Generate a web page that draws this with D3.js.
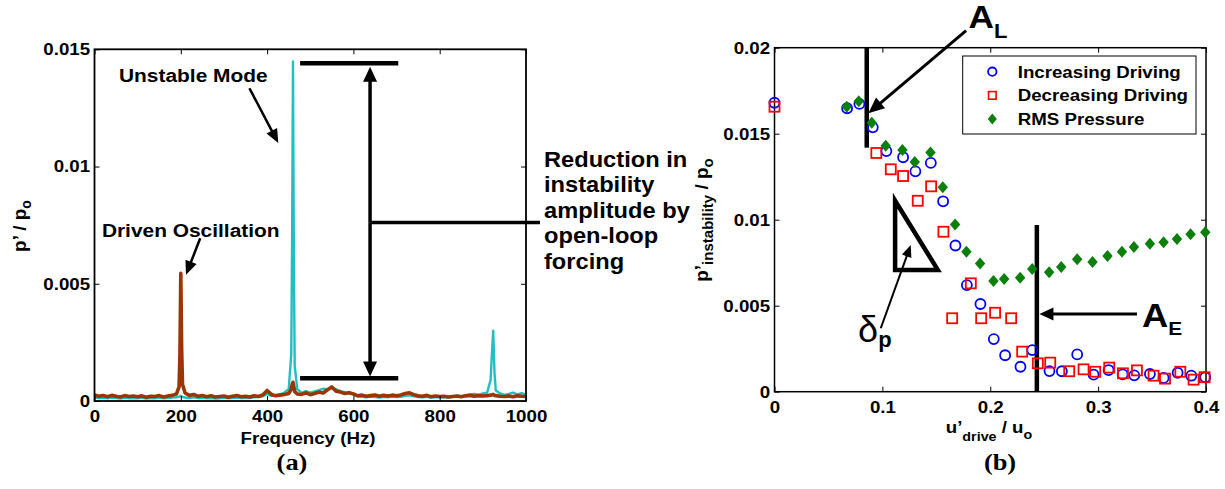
<!DOCTYPE html>
<html>
<head>
<meta charset="utf-8">
<script src="https://cdn.jsdelivr.net/npm/d3@7"></script>
<style>
  body { margin: 0; background: #fff; }
  svg text { font-family: "Liberation Sans", Arial, sans-serif; font-weight: bold; fill: #000; }
</style>
</head>
<body>
<svg id="chart" width="1225" height="489"></svg>
<script>
// ---- panel (a): pressure spectra, amplitudes in units of 1e-4 ----
var freqHz = [
  0, 10, 20, 30, 40, 50, 60, 70, 80, 90,
  100, 110, 120, 130, 140, 150, 160, 170, 180, 190,
  196, 198, 200, 202, 204,
  210, 220, 230, 240, 250, 260, 270, 280, 290, 300,
  310, 320, 330, 340, 350, 360, 370, 380, 390, 400,
  410, 420, 430, 440, 450,
  456, 458, 460, 462, 464,
  470, 480, 490, 500, 510, 520, 530, 540, 550, 560,
  570, 580, 590, 600, 610, 620, 630, 640, 650, 660,
  670, 680, 690, 700, 710, 720, 730, 740, 750, 760,
  770, 780, 790, 800, 810, 820, 830, 840, 850, 860,
  870, 880, 890, 900, 910,
  918, 921, 924, 927, 930,
  940, 950, 960, 970, 980, 990, 1000
];
// with open-loop forcing at 200 Hz (brown)
var forcedAmp = [
  2.6, 2.0, 2.3, 1.8, 2.4, 2.0, 1.7, 2.3, 1.9, 2.1,
  1.8, 2.2, 1.6, 2.0, 1.9, 2.3, 1.7, 2.1, 2.4, 3.0,
  6.0, 20, 54.5, 22, 7.0,
  3.4, 2.4, 2.8, 2.0, 2.3, 1.8, 2.2, 1.7, 1.9, 2.1,
  1.6, 2.0, 2.3, 1.8, 2.0, 1.7, 2.2, 1.9, 2.6, 4.5,
  2.8, 2.2, 2.5, 2.8, 3.2,
  5.0, 7.0, 8.0, 6.0, 4.0,
  3.0, 2.8, 3.5, 2.7, 3.2, 3.8, 3.4, 4.8, 6.0, 4.2,
  3.8, 3.2, 3.5, 3.0, 2.2, 2.5, 2.0, 2.3, 2.6, 2.0,
  2.4, 2.1, 2.5, 2.2, 2.6, 3.2, 3.5, 2.7, 2.2, 2.0,
  2.4, 1.8, 2.1, 1.9, 2.0, 1.7, 1.9, 2.1, 1.8, 2.2,
  2.4, 2.0, 2.3, 2.1, 2.3,
  2.5, 2.6, 2.8, 2.4, 2.3,
  2.0, 1.9, 2.1, 1.8, 2.2, 2.0, 1.9
];
// unforced, unstable mode (cyan)
var unforcedAmp = [
  1.5, 1.2, 1.4, 1.1, 1.5, 1.3, 1.0, 1.4, 1.2, 1.3,
  1.1, 1.4, 1.0, 1.3, 1.2, 1.4, 1.1, 1.3, 1.5, 1.6,
  1.8, 2.0, 2.2, 1.9, 1.7,
  1.5, 1.3, 1.6, 1.2, 1.4, 1.1, 1.3, 1.0, 1.2, 1.4,
  1.1, 1.3, 1.5, 1.2, 1.4, 1.3, 1.6, 1.8, 2.0, 3.0,
  2.2, 2.6, 2.8, 3.6, 5.0,
  20, 70, 144.8, 60, 15,
  5.0, 3.5, 4.2, 3.6, 4.1, 4.6, 5.2, 5.0, 5.6, 5.0,
  4.2, 3.8, 3.5, 3.1, 2.0, 1.8, 1.6, 1.9, 1.7, 1.5,
  1.8, 1.6, 1.9, 1.7, 1.8, 2.2, 2.4, 2.0, 1.7, 1.6,
  1.8, 1.5, 1.7, 1.6, 1.7, 1.5, 1.8, 2.2, 2.0, 2.4,
  2.8, 3.0, 2.6, 3.2, 3.6,
  9.0, 20, 30, 12, 4.5,
  3.2, 2.6, 3.0, 3.6, 2.8, 3.4, 2.6
];
var freqTicks = [0, 200, 400, 600, 800, 1000];
var ampTicks = [0, 0.005, 0.01, 0.015];
var reductionText = ["Reduction in", "instability", "amplitude by", "open-loop", "forcing"];

// ---- panel (b): instability amplitude vs driving amplitude ----
var incDrive = [0, 0.0673, 0.0787, 0.0911, 0.1037, 0.1192, 0.1306, 0.1449, 0.1563, 0.1677,
  0.1783, 0.1909, 0.2033, 0.2138, 0.228, 0.2389, 0.2549, 0.2664, 0.2806, 0.2958,
  0.3097, 0.3227, 0.3335, 0.348, 0.3607, 0.3737, 0.3864, 0.3993];
var incAmp = [0.0168, 0.01648, 0.01673, 0.01537, 0.01399, 0.01363, 0.01281, 0.0133, 0.01107, 0.0085,
  0.0062, 0.0051, 0.00306, 0.00212, 0.00145, 0.00242, 0.0012, 0.00119, 0.00217, 0.00099,
  0.00126, 0.00101, 0.00095, 0.00103, 0.0008, 0.0011, 0.00093, 0.00084];
var decDrive = [0, 0.0944, 0.1078, 0.1192, 0.1328, 0.1452, 0.1566, 0.1647, 0.182, 0.1916,
  0.2045, 0.2194, 0.2296, 0.2441, 0.2556, 0.2732, 0.2865, 0.2973, 0.3103, 0.323,
  0.336, 0.3514, 0.362, 0.3762, 0.3885, 0.3987];
var decAmp = [0.01657, 0.01388, 0.01293, 0.01254, 0.0111, 0.01194, 0.0093, 0.00427, 0.0063, 0.00427,
  0.00459, 0.00427, 0.00233, 0.00165, 0.00169, 0.00119, 0.0013, 0.00116, 0.0014, 0.00107,
  0.00124, 0.00093, 0.00076, 0.00116, 0.0007, 0.00084];
var rmsDrive = [0.067, 0.0781, 0.0902, 0.1031, 0.1186, 0.13, 0.1446, 0.156, 0.1674, 0.1779,
  0.1906, 0.203, 0.2129, 0.2277, 0.2389, 0.2546, 0.2658, 0.2806, 0.2948, 0.3087,
  0.3221, 0.3332, 0.348, 0.3607, 0.3731, 0.3857, 0.3993];
var rmsAmp = [0.01657, 0.01688, 0.01564, 0.0143, 0.01405, 0.01335, 0.0139, 0.01188, 0.00972, 0.00814,
  0.00746, 0.00644, 0.00655, 0.00663, 0.00713, 0.00694, 0.00725, 0.0077, 0.00754, 0.00789,
  0.00814, 0.00841, 0.0086, 0.00869, 0.00888, 0.00915, 0.00927];
var driveTicks = [0, 0.1, 0.2, 0.3, 0.4];
var instTicks = [0, 0.005, 0.01, 0.015, 0.02];
var legendLabels = ["Increasing Driving", "Decreasing Driving", "RMS Pressure"];

var BLUE = "#0000ff", RED = "#ff0000", GREEN = "#0a7f0a";
var CYAN = "#22bfc2", BROWN = "#9a3606";
var STRETCH = "scale(1.1,1)";

var svg = d3.select("#chart");
var fmt = d3.format("~g");

function label(g, x, y, str, size, anchor) {
  return g.append("text")
      .attr("transform", "translate(" + x + "," + y + ") " + STRETCH)
      .attr("font-size", size)
      .attr("text-anchor", anchor || "start")
      .text(str);
}

function arrow(g, x1, y1, x2, y2, w, hl, hw) {
  var dx = x2 - x1, dy = y2 - y1, len = Math.hypot(dx, dy);
  var ux = dx / len, uy = dy / len;
  var bx = x2 - ux * hl, by = y2 - uy * hl;
  g.append("line")
      .attr("x1", x1).attr("y1", y1)
      .attr("x2", bx + ux).attr("y2", by + uy)
      .attr("stroke", "#000").attr("stroke-width", w);
  g.append("path")
      .attr("d", "M" + x2 + "," + y2 +
                 "L" + (bx - uy * hw / 2) + "," + (by + ux * hw / 2) +
                 "L" + (bx + uy * hw / 2) + "," + (by - ux * hw / 2) + "Z")
      .attr("fill", "#000");
}

function frame(g, x, y, ticksX, ticksY, lw) {
  var x0 = x.range()[0], x1 = x.range()[1], y0 = y.range()[0], y1 = y.range()[1];
  g.append("rect")
      .attr("x", x0).attr("y", y1)
      .attr("width", x1 - x0).attr("height", y0 - y1)
      .attr("fill", "none").attr("stroke", "#000").attr("stroke-width", lw);

  var bottom = g.append("g").attr("transform", "translate(0," + y0 + ")")
      .call(d3.axisBottom(x).tickValues(ticksX).tickFormat(fmt)
              .tickSizeInner(-5).tickSizeOuter(0).tickPadding(9));
  var left = g.append("g").attr("transform", "translate(" + x0 + ",0)")
      .call(d3.axisLeft(y).tickValues(ticksY).tickFormat(fmt)
              .tickSizeInner(-5).tickSizeOuter(0).tickPadding(4));
  g.append("g").attr("transform", "translate(0," + y1 + ")")
      .call(d3.axisTop(x).tickValues(ticksX).tickFormat("").tickSizeInner(-5).tickSizeOuter(0));
  g.append("g").attr("transform", "translate(" + x1 + ",0)")
      .call(d3.axisRight(y).tickValues(ticksY).tickFormat("").tickSizeInner(-5).tickSizeOuter(0));

  g.selectAll(".domain").remove();
  g.selectAll(".tick line").attr("stroke", "#000").attr("stroke-width", 1);
  [bottom, left].forEach(function(a) {
    a.attr("font-size", 17).attr("font-family", null);
    a.selectAll("text").attr("transform", STRETCH);
  });
}

// ================= panel (a) =================
var xA = d3.scaleLinear().domain([0, 1000]).range([94.5, 526]);
var yA = d3.scaleLinear().domain([0, 0.015]).range([401, 49.3]);
var ga = svg.append("g");

ga.append("clipPath").attr("id", "clipA")
  .append("rect")
    .attr("x", xA.range()[0]).attr("y", yA.range()[1])
    .attr("width", xA.range()[1] - xA.range()[0])
    .attr("height", yA.range()[0] - yA.range()[1]);

var spec = d3.line()
    .x(function(d) { return xA(d[0]); })
    .y(function(d) { return yA(d[1] * 1e-4); });

ga.append("path")
    .datum(d3.zip(freqHz, unforcedAmp))
    .attr("clip-path", "url(#clipA)")
    .attr("d", spec)
    .attr("fill", "none").attr("stroke", CYAN).attr("stroke-width", 2.4)
    .attr("stroke-linejoin", "round");
ga.append("path")
    .datum(d3.zip(freqHz, forcedAmp))
    .attr("clip-path", "url(#clipA)")
    .attr("d", spec)
    .attr("fill", "none").attr("stroke", BROWN).attr("stroke-width", 3.6)
    .attr("stroke-linejoin", "round");

frame(ga, xA, yA, freqTicks, ampTicks, 1.8);

label(ga, 308, 444, "Frequency (Hz)", 17, "middle");
ga.append("text")
    .attr("transform", "translate(26,226) rotate(-90)")
    .attr("font-size", 19).attr("text-anchor", "middle")
    .text("p\u2019 / p")
  .append("tspan").attr("font-size", 14).attr("dy", 5).text("o");
label(ga, 292, 470, "(a)", 24, "middle")
    .style("font-family", "'Liberation Serif', 'Times New Roman', serif");

// annotations
label(ga, xA(229), yA(0.01362), "Unstable Mode", 19, "middle");
arrow(ga, xA(359), yA(0.01334), xA(426), yA(0.0110), 2.5, 14, 12);
label(ga, xA(223), yA(0.00698), "Driven Oscillation", 19, "middle");
arrow(ga, xA(245), yA(0.00694), xA(212), yA(0.00538), 2.5, 14, 12);

[0.01441, 0.00097].forEach(function(v) {
  ga.append("line")
      .attr("x1", xA(476.5)).attr("x2", xA(704))
      .attr("y1", yA(v)).attr("y2", yA(v))
      .attr("stroke", "#000").attr("stroke-width", 4.5);
});
arrow(ga, xA(638.6), yA(0.0076), xA(638.6), yA(0.01426), 3.5, 15, 14);
arrow(ga, xA(638.6), yA(0.0076), xA(638.6), yA(0.00104), 3.5, 15, 14);
ga.append("line")
    .attr("x1", xA(638.6)).attr("x2", 540)
    .attr("y1", yA(0.00761)).attr("y2", yA(0.00761))
    .attr("stroke", "#000").attr("stroke-width", 3.5);

reductionText.forEach(function(t, i) {
  label(ga, 544, 167 + i * 25.4, t, 21.5);
});

// ================= panel (b) =================
var xB = d3.scaleLinear().domain([0, 0.4]).range([774.5, 1206]);
var yB = d3.scaleLinear().domain([0, 0.02]).range([391.7, 47.7]);
var gb = svg.append("g");

frame(gb, xB, yB, driveTicks, instTicks, 1.5);

var xl = gb.append("text")
    .attr("transform", "translate(989,433) " + STRETCH)
    .attr("font-size", 17).attr("text-anchor", "middle");
xl.append("tspan").text("u\u2019");
xl.append("tspan").attr("font-size", 13).attr("dy", 8).text("drive");
xl.append("tspan").attr("dy", -8).text(" / u");
xl.append("tspan").attr("font-size", 13).attr("dy", 6).text("o");

var yl = gb.append("text")
    .attr("transform", "translate(708,220) rotate(-90)")
    .attr("font-size", 19).attr("text-anchor", "middle");
yl.append("tspan").text("p\u2019");
yl.append("tspan").attr("font-size", 15).attr("dy", 5).text("instability");
yl.append("tspan").attr("dy", -5).text(" / p");
yl.append("tspan").attr("font-size", 15).attr("dy", 5).text("o");

label(gb, 1000, 470, "(b)", 24, "middle")
    .style("font-family", "'Liberation Serif', 'Times New Roman', serif");

// annotations under the markers
gb.append("line")
    .attr("x1", xB(0.0855)).attr("x2", xB(0.0855))
    .attr("y1", yB(0.02)).attr("y2", yB(0.01419))
    .attr("stroke", "#000").attr("stroke-width", 4.5);
arrow(gb, xB(0.1776), yB(0.02099), xB(0.087), yB(0.01619), 3, 16, 14);
var al = label(gb, xB(0.1798), yB(0.02113), "A", 32);
al.append("tspan").attr("font-size", 20).attr("dy", 9.4).text("L");

gb.append("line")
    .attr("x1", xB(0.2432)).attr("x2", xB(0.2432))
    .attr("y1", yB(0.00969)).attr("y2", yB(0))
    .attr("stroke", "#000").attr("stroke-width", 4.5);
arrow(gb, xB(0.336), yB(0.00452), xB(0.2456), yB(0.00452), 3, 14, 13);
var ae = label(gb, xB(0.3406), yB(0.00378), "A", 33);
ae.append("tspan").attr("font-size", 19).attr("dy", 8.3).text("E");

gb.append("path")
    .attr("d", d3.line()([[xB(0.1118), yB(0.0111)], [xB(0.1118), yB(0.00708)], [xB(0.1514), yB(0.00708)]]) + "Z")
    .attr("fill", "none").attr("stroke", "#000").attr("stroke-width", 4.5)
    .attr("stroke-linejoin", "miter");
arrow(gb, xB(0.0985), yB(0.00369), xB(0.1263), yB(0.00853), 2, 12, 10);
var dp = gb.append("text")
    .attr("transform", "translate(" + xB(0.0775) + "," + yB(0.0029) + ")")
    .attr("font-size", 36).style("font-weight", "normal");
dp.append("tspan").text("\u03b4");
dp.append("tspan").attr("font-size", 22).attr("dy", 5).style("font-weight", "bold").text("p");

// markers
gb.append("g").selectAll("circle")
  .data(d3.zip(incDrive, incAmp))
  .join("circle")
    .attr("cx", function(d) { return xB(d[0]); })
    .attr("cy", function(d) { return yB(d[1]); })
    .attr("r", 5)
    .attr("fill", "none").attr("stroke", BLUE).attr("stroke-width", 1.8);

gb.append("g").selectAll("rect")
  .data(d3.zip(decDrive, decAmp))
  .join("rect")
    .attr("x", function(d) { return xB(d[0]) - 5; })
    .attr("y", function(d) { return yB(d[1]) - 5; })
    .attr("width", 10).attr("height", 10)
    .attr("fill", "none").attr("stroke", RED).attr("stroke-width", 1.8);

var diamond = "M0,-6L5.2,0L0,6L-5.2,0Z";
gb.append("g").selectAll("path")
  .data(d3.zip(rmsDrive, rmsAmp))
  .join("path")
    .attr("transform", function(d) { return "translate(" + xB(d[0]) + "," + yB(d[1]) + ")"; })
    .attr("d", diamond)
    .attr("fill", GREEN);

// legend
var lg = gb.append("g");
lg.append("rect")
    .attr("x", 962.7).attr("y", 56).attr("width", 233.3).attr("height", 78)
    .attr("fill", "#fff").attr("stroke", "#000").attr("stroke-width", 1);
legendLabels.forEach(function(t, i) {
  var cy = 71.7 + i * 23.7;
  if (i === 0) {
    lg.append("circle").attr("cx", 992.3).attr("cy", cy).attr("r", 4.2)
        .attr("fill", "none").attr("stroke", BLUE).attr("stroke-width", 1.8);
  } else if (i === 1) {
    lg.append("rect").attr("x", 988.5).attr("y", cy - 3.8).attr("width", 7.6).attr("height", 7.6)
        .attr("fill", "none").attr("stroke", RED).attr("stroke-width", 1.6);
  } else {
    lg.append("path").attr("transform", "translate(992.3," + cy + ")")
        .attr("d", "M0,-5.5L4.5,0L0,5.5L-4.5,0Z").attr("fill", GREEN);
  }
  label(lg, 1017.7, cy + 6, t, 17);
});
</script>
</body>
</html>
